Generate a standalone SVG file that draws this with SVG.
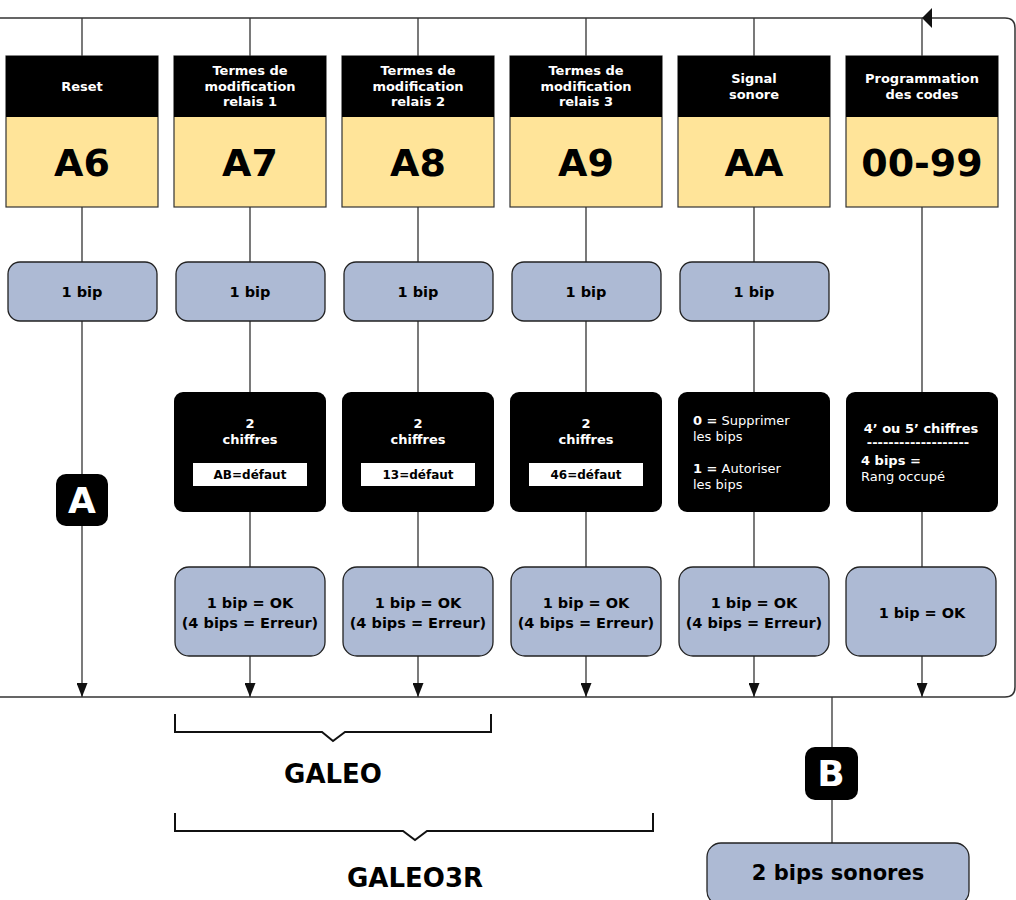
<svg xmlns="http://www.w3.org/2000/svg" width="1016" height="900" viewBox="0 0 1016 900">
  <defs>
    <marker id="arrow" viewBox="0 0 14 11" refX="14" refY="5.5" markerWidth="14" markerHeight="11" markerUnits="userSpaceOnUse" orient="auto">
      <path d="M0,0 L14,5.5 L0,11 Z" fill="#111"/>
    </marker>
    <style>
      text { font-family: "DejaVu Sans", Verdana, sans-serif; }
      .conn { stroke: #333; stroke-width: 1.3; fill: none; }
      .bus { stroke: #333; stroke-width: 1.5; fill: none; }
      .hdr { fill: #000; }
      .code { fill: #ffe499; stroke: #333; stroke-width: 1.2; }
      .hdrtxt { fill: #fff; font-size: 13px; font-weight: bold; text-anchor: middle; }
      .codetxt { fill: #000; font-size: 38px; font-weight: bold; text-anchor: middle; }
      .bip { fill: #adbad4; stroke: #222; stroke-width: 1.3; }
      .biptxt { fill: #000; font-size: 14.5px; font-weight: bold; text-anchor: middle; }
      .blk { fill: #000; }
      .wtxt { fill: #fff; font-size: 13px; font-weight: bold; text-anchor: middle; }
      .wreg { fill: #fff; font-size: 13px; }
      .lbl { fill: #fff; }
      .lbltxt { fill: #000; font-size: 12px; font-weight: bold; text-anchor: middle; }
      .badge { fill: #000; }
      .badgetxt { fill: #fff; font-size: 36px; font-weight: bold; text-anchor: middle; }
      .brace { stroke: #111; stroke-width: 2; fill: none; }
      .group { fill: #000; font-size: 26px; font-weight: bold; text-anchor: middle; }
    </style>
  </defs>

  <!-- connectors -->
  <g id="connectors">
    <!-- loop bus: top rail, right return, bottom rail -->
    <path class="bus" d="M0,18 H1005 Q1015,18 1015,28 V687 Q1015,697 1005,697 H0"/>
    <polygon points="922,18 932,8 932,28" fill="#111"/>
    <!-- drops from top rail into headers -->
    <path class="conn" d="M82,18 V56 M250,18 V56 M418,18 V56 M586,18 V56 M754,18 V56 M922,18 V56"/>
    <!-- header to 1 bip -->
    <path class="conn" d="M82,207 V262 M250,207 V262 M418,207 V262 M586,207 V262 M754,207 V262"/>
    <!-- 1 bip to entry boxes -->
    <path class="conn" d="M250,321 V392 M418,321 V392 M586,321 V392 M754,321 V392 M922,207 V392"/>
    <!-- entry boxes to result -->
    <path class="conn" d="M250,512 V567 M418,512 V567 M586,512 V567 M754,512 V567 M922,512 V567"/>
    <!-- into bottom rail -->
    <path class="conn" d="M82,321 V697" marker-end="url(#arrow)"/>
    <path class="conn" d="M250,656 V697" marker-end="url(#arrow)"/>
    <path class="conn" d="M418,656 V697" marker-end="url(#arrow)"/>
    <path class="conn" d="M586,656 V697" marker-end="url(#arrow)"/>
    <path class="conn" d="M754,656 V697" marker-end="url(#arrow)"/>
    <path class="conn" d="M922,656 V697" marker-end="url(#arrow)"/>
    <!-- exit to final beeps -->
    <path class="conn" d="M832,697 V843"/>
  </g>

  <!-- header + code nodes -->
  <g id="node-a6">
    <rect class="code" x="6" y="56" width="152" height="151"/>
    <rect class="hdr" x="6" y="56" width="152" height="61"/>
    <text class="hdrtxt" x="82" y="91">Reset</text>
    <text class="codetxt" x="82" y="176">A6</text>
  </g>
  <g id="node-a7">
    <rect class="code" x="174" y="56" width="152" height="151"/>
    <rect class="hdr" x="174" y="56" width="152" height="61"/>
    <text class="hdrtxt" x="250" y="75">Termes de</text>
    <text class="hdrtxt" x="250" y="91">modification</text>
    <text class="hdrtxt" x="250" y="106">relais 1</text>
    <text class="codetxt" x="250" y="176">A7</text>
  </g>
  <g id="node-a8">
    <rect class="code" x="342" y="56" width="152" height="151"/>
    <rect class="hdr" x="342" y="56" width="152" height="61"/>
    <text class="hdrtxt" x="418" y="75">Termes de</text>
    <text class="hdrtxt" x="418" y="91">modification</text>
    <text class="hdrtxt" x="418" y="106">relais 2</text>
    <text class="codetxt" x="418" y="176">A8</text>
  </g>
  <g id="node-a9">
    <rect class="code" x="510" y="56" width="152" height="151"/>
    <rect class="hdr" x="510" y="56" width="152" height="61"/>
    <text class="hdrtxt" x="586" y="75">Termes de</text>
    <text class="hdrtxt" x="586" y="91">modification</text>
    <text class="hdrtxt" x="586" y="106">relais 3</text>
    <text class="codetxt" x="586" y="176">A9</text>
  </g>
  <g id="node-aa">
    <rect class="code" x="678" y="56" width="152" height="151"/>
    <rect class="hdr" x="678" y="56" width="152" height="61"/>
    <text class="hdrtxt" x="754" y="83">Signal</text>
    <text class="hdrtxt" x="754" y="99">sonore</text>
    <text class="codetxt" x="754" y="176">AA</text>
  </g>
  <g id="node-codes">
    <rect class="code" x="846" y="56" width="152" height="151"/>
    <rect class="hdr" x="846" y="56" width="152" height="61"/>
    <text class="hdrtxt" x="922" y="83">Programmation</text>
    <text class="hdrtxt" x="922" y="99">des codes</text>
    <text class="codetxt" x="922" y="176">00-99</text>
  </g>

  <!-- single beep acknowledgements -->
  <g id="bip-a6">
    <rect class="bip" x="8" y="262" width="149" height="59" rx="12"/>
    <text class="biptxt" x="82" y="297">1 bip</text>
  </g>
  <g id="bip-a7">
    <rect class="bip" x="176" y="262" width="149" height="59" rx="12"/>
    <text class="biptxt" x="250" y="297">1 bip</text>
  </g>
  <g id="bip-a8">
    <rect class="bip" x="344" y="262" width="149" height="59" rx="12"/>
    <text class="biptxt" x="418" y="297">1 bip</text>
  </g>
  <g id="bip-a9">
    <rect class="bip" x="512" y="262" width="149" height="59" rx="12"/>
    <text class="biptxt" x="586" y="297">1 bip</text>
  </g>
  <g id="bip-aa">
    <rect class="bip" x="680" y="262" width="149" height="59" rx="12"/>
    <text class="biptxt" x="754" y="297">1 bip</text>
  </g>

  <!-- value entry boxes -->
  <g id="entry-a7">
    <rect class="blk" x="174" y="392" width="152" height="120" rx="9"/>
    <text class="wtxt" x="250" y="428">2</text>
    <text class="wtxt" x="250" y="444">chiffres</text>
    <rect class="lbl" x="193" y="463" width="114" height="23"/>
    <text class="lbltxt" x="250" y="479">AB=défaut</text>
  </g>
  <g id="entry-a8">
    <rect class="blk" x="342" y="392" width="152" height="120" rx="9"/>
    <text class="wtxt" x="418" y="428">2</text>
    <text class="wtxt" x="418" y="444">chiffres</text>
    <rect class="lbl" x="361" y="463" width="114" height="23"/>
    <text class="lbltxt" x="418" y="479">13=défaut</text>
  </g>
  <g id="entry-a9">
    <rect class="blk" x="510" y="392" width="152" height="120" rx="9"/>
    <text class="wtxt" x="586" y="428">2</text>
    <text class="wtxt" x="586" y="444">chiffres</text>
    <rect class="lbl" x="529" y="463" width="114" height="23"/>
    <text class="lbltxt" x="586" y="479">46=défaut</text>
  </g>
  <g id="entry-aa">
    <rect class="blk" x="678" y="392" width="152" height="120" rx="9"/>
    <text class="wreg" x="693" y="425"><tspan font-weight="bold">0 =</tspan> Supprimer</text>
    <text class="wreg" x="693" y="441">les bips</text>
    <text class="wreg" x="693" y="473"><tspan font-weight="bold">1 =</tspan> Autoriser</text>
    <text class="wreg" x="693" y="489">les bips</text>
  </g>
  <g id="entry-codes">
    <rect class="blk" x="846" y="392" width="152" height="120" rx="9"/>
    <text class="wtxt" x="921" y="433">4’ ou 5’ chiffres</text>
    <text class="wtxt" x="918" y="447">-------------------</text>
    <text class="wreg" x="861" y="465" font-weight="bold">4 bips =</text>
    <text class="wreg" x="861" y="481">Rang occupé</text>
  </g>

  <!-- result boxes -->
  <g id="result-a7">
    <rect class="bip" x="175" y="567" width="150" height="89" rx="14"/>
    <text class="biptxt" x="250" y="608">1 bip = OK</text>
    <text class="biptxt" x="250" y="628">(4 bips = Erreur)</text>
  </g>
  <g id="result-a8">
    <rect class="bip" x="343" y="567" width="150" height="89" rx="14"/>
    <text class="biptxt" x="418" y="608">1 bip = OK</text>
    <text class="biptxt" x="418" y="628">(4 bips = Erreur)</text>
  </g>
  <g id="result-a9">
    <rect class="bip" x="511" y="567" width="150" height="89" rx="14"/>
    <text class="biptxt" x="586" y="608">1 bip = OK</text>
    <text class="biptxt" x="586" y="628">(4 bips = Erreur)</text>
  </g>
  <g id="result-aa">
    <rect class="bip" x="679" y="567" width="150" height="89" rx="14"/>
    <text class="biptxt" x="754" y="608">1 bip = OK</text>
    <text class="biptxt" x="754" y="628">(4 bips = Erreur)</text>
  </g>
  <g id="result-codes">
    <rect class="bip" x="846" y="567" width="150" height="89" rx="14"/>
    <text class="biptxt" x="922" y="618">1 bip = OK</text>
  </g>

  <!-- badges -->
  <g id="badge-a">
    <rect class="badge" x="56" y="474" width="52" height="52" rx="10"/>
    <text class="badgetxt" x="82" y="513">A</text>
  </g>
  <g id="badge-b">
    <rect class="badge" x="805" y="747" width="53" height="53" rx="10"/>
    <text class="badgetxt" x="831" y="786">B</text>
  </g>

  <!-- final double beep -->
  <g id="final-beeps">
    <rect class="bip" x="707" y="843" width="262" height="62" rx="14"/>
    <text class="biptxt" x="838" y="880" style="font-size:21px">2 bips sonores</text>
  </g>

  <!-- product range braces -->
  <g id="range-galeo">
    <path class="brace" d="M175,714 V732 H322 L333,741 L345,732 H491 V714"/>
    <text class="group" x="333" y="783">GALEO</text>
  </g>
  <g id="range-galeo3r">
    <path class="brace" d="M175,813 V831 H403 L415,840 L427,831 H653 V813"/>
    <text class="group" x="415" y="887">GALEO3R</text>
  </g>
</svg>
